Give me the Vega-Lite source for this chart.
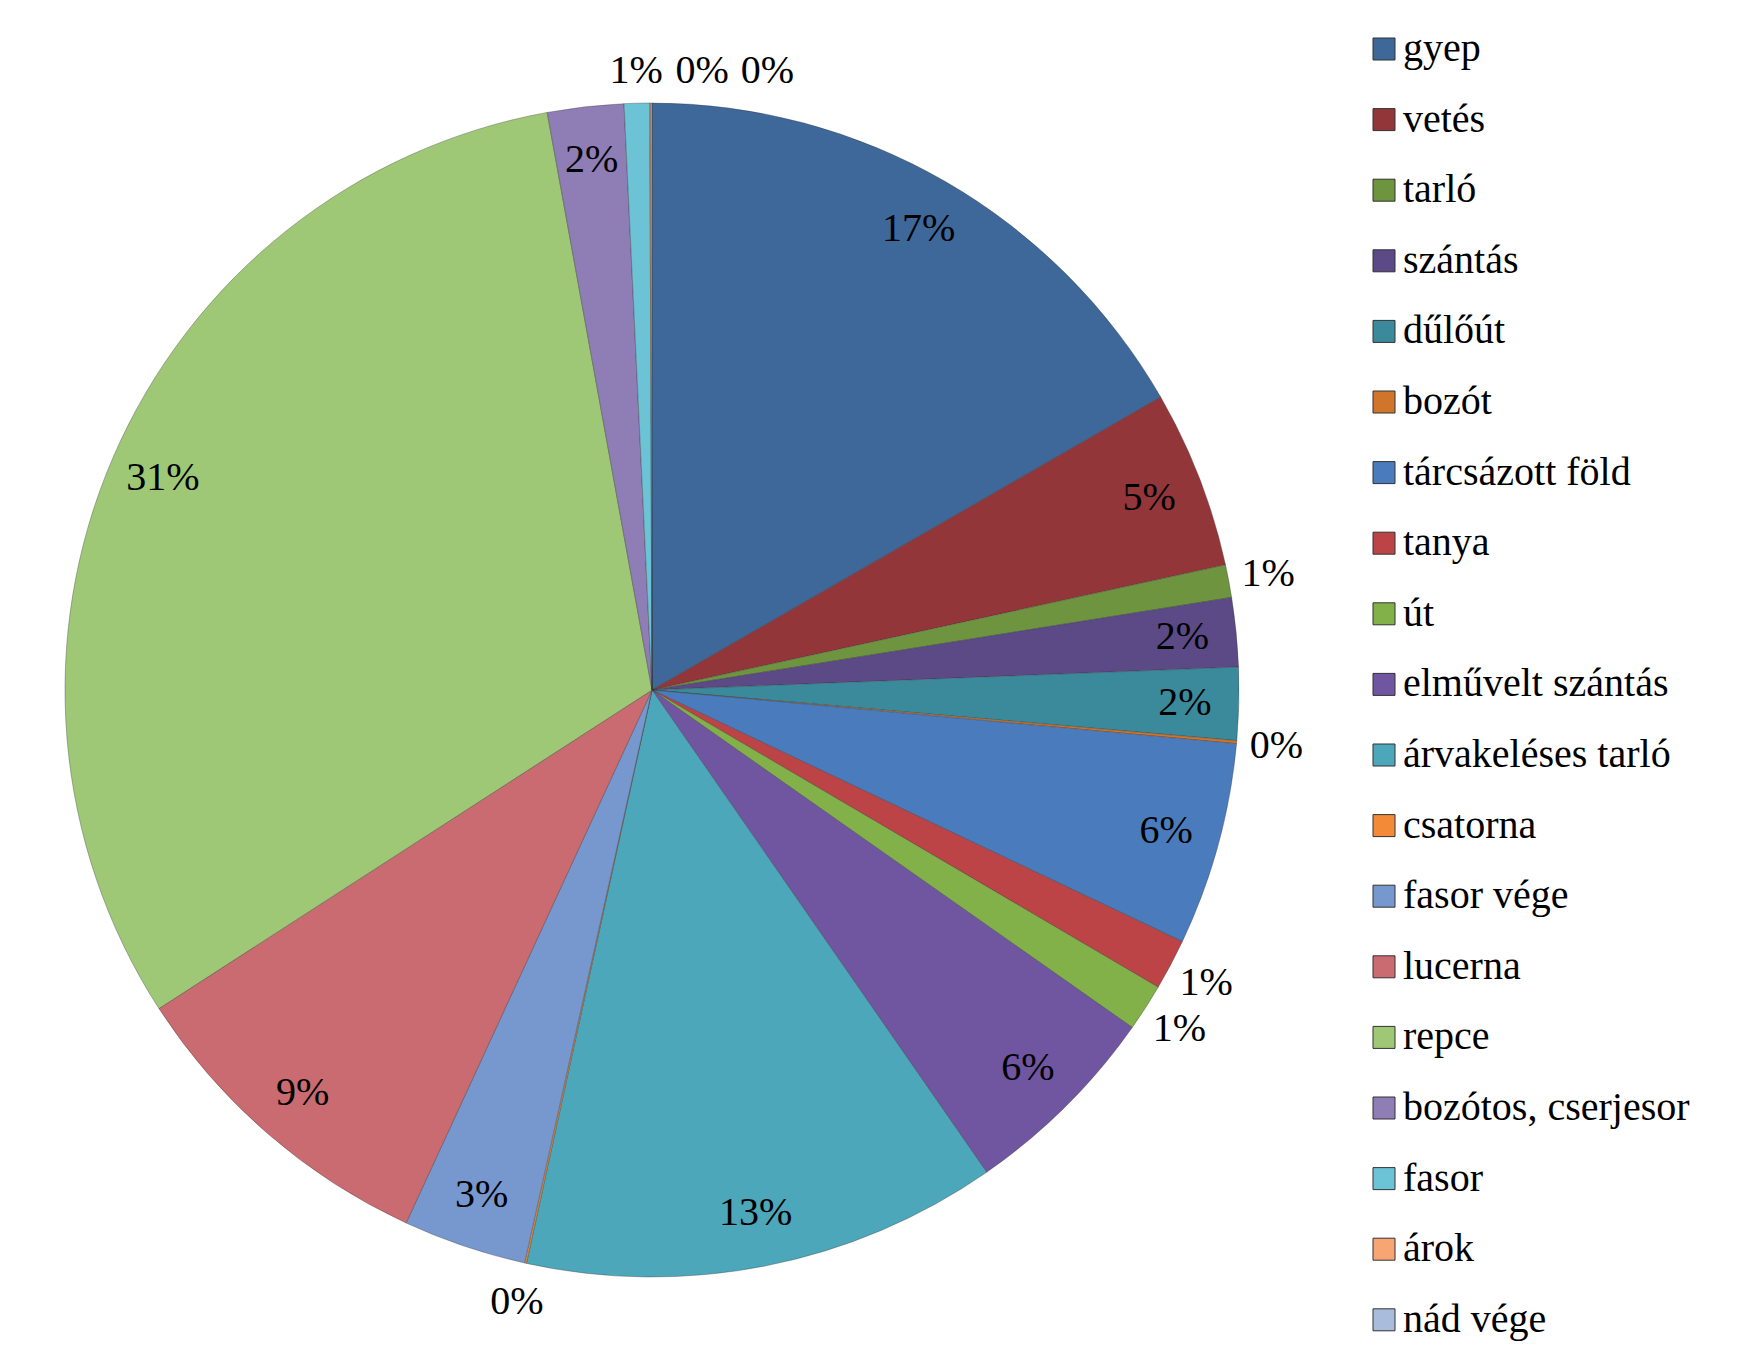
{
  "$schema": "https://vega.github.io/schema/vega-lite/v6.json",
  "width": 1304,
  "height": 1332,
  "autosize": {"type": "none"},
  "padding": {"left": 0, "top": 24, "right": 450, "bottom": 0},
  "background": "white",
  "config": {"view": {"stroke": null}},
  "data": {
    "values": [
      {"k": 1, "cat": "gyep", "share": 0.167},
      {"k": 2, "cat": "vetés", "share": 0.049},
      {"k": 3, "cat": "tarló", "share": 0.009},
      {"k": 4, "cat": "szántás", "share": 0.019},
      {"k": 5, "cat": "dűlőút", "share": 0.020},
      {"k": 6, "cat": "bozót", "share": 0.0008},
      {"k": 7, "cat": "tárcsázott föld", "share": 0.056},
      {"k": 8, "cat": "tanya", "share": 0.014},
      {"k": 9, "cat": "út", "share": 0.013},
      {"k": 10, "cat": "elművelt szántás", "share": 0.056},
      {"k": 11, "cat": "árvakeléses tarló", "share": 0.131},
      {"k": 12, "cat": "csatorna", "share": 0.0005},
      {"k": 13, "cat": "fasor vége", "share": 0.034},
      {"k": 14, "cat": "lucerna", "share": 0.090},
      {"k": 15, "cat": "repce", "share": 0.313},
      {"k": 16, "cat": "bozótos, cserjesor", "share": 0.021},
      {"k": 17, "cat": "fasor", "share": 0.007},
      {"k": 18, "cat": "árok", "share": 0.0003},
      {"k": 19, "cat": "nád vége", "share": 0.0003}
    ]
  },
  "encoding": {
    "theta": {"field": "share", "type": "quantitative", "stack": true},
    "order": {"field": "k", "type": "quantitative"}
  },
  "layer": [
    {
      "mark": {"type": "arc", "radius": 587, "stroke": "#333333", "strokeOpacity": 0.35, "strokeWidth": 1},
      "encoding": {
        "color": {
          "field": "cat",
          "type": "nominal",
          "sort": ["gyep", "vetés", "tarló", "szántás", "dűlőút", "bozót", "tárcsázott föld", "tanya", "út", "elművelt szántás", "árvakeléses tarló", "csatorna", "fasor vége", "lucerna", "repce", "bozótos, cserjesor", "fasor", "árok", "nád vége"],
          "scale": {
            "domain": ["gyep", "vetés", "tarló", "szántás", "dűlőút", "bozót", "tárcsázott föld", "tanya", "út", "elművelt szántás", "árvakeléses tarló", "csatorna", "fasor vége", "lucerna", "repce", "bozótos, cserjesor", "fasor", "árok", "nád vége"],
            "range": ["#3E689A", "#93363A", "#6E9440", "#5B4A86", "#3A8A9C", "#D1742C", "#4A7CBD", "#BC4447", "#82B14A", "#7056A0", "#4DA7BB", "#F38A38", "#7797CF", "#C96B70", "#9FC876", "#8F7DB6", "#6CC3D6", "#F8A574", "#A9BCDB"]
          },
          "legend": {
            "title": null,
            "orient": "none",
            "legendX": 1364,
            "legendY": 5,
            "padding": 0,
            "symbolType": "square",
            "symbolSize": 484,
            "symbolStrokeWidth": 1,
            "labelFont": "Liberation Serif",
            "labelFontSize": 40,
            "labelColor": "#000000",
            "labelLimit": 600,
            "labelOffset": -1,
            "rowPadding": 30.6,
            "symbolOffset": 0
          }
        }
      }
    },
    {
      "mark": {"type": "text", "radius": 533, "font": "Liberation Serif", "fontSize": 40, "color": "#000000"},
      "encoding": {
        "text": {"field": "share", "type": "quantitative", "format": ".0%"},
        "opacity": {"condition": {"test": "datum.share >= 0.015", "value": 1}, "value": 0}
      }
    },
    {
      "mark": {"type": "text", "radius": 627, "font": "Liberation Serif", "fontSize": 40, "color": "#000000"},
      "encoding": {
        "text": {"field": "share", "type": "quantitative", "format": ".0%"},
        "opacity": {"condition": {"test": "datum.share < 0.015 && datum.cat !== 'fasor' && datum.cat !== 'árok' && datum.cat !== 'nád vége'", "value": 1}, "value": 0}
      }
    },
    {
      "mark": {"type": "text", "radius": 619, "font": "Liberation Serif", "fontSize": 40, "color": "#000000"},
      "encoding": {
        "text": {"field": "share", "type": "quantitative", "format": ".0%"},
        "opacity": {"condition": {"test": "datum.cat === 'fasor'", "value": 1}, "value": 0}
      }
    },
    {
      "mark": {"type": "text", "radius": 619, "dx": 52, "font": "Liberation Serif", "fontSize": 40, "color": "#000000"},
      "encoding": {
        "text": {"field": "share", "type": "quantitative", "format": ".0%"},
        "opacity": {"condition": {"test": "datum.cat === 'árok'", "value": 1}, "value": 0}
      }
    },
    {
      "mark": {"type": "text", "radius": 619, "dx": 116, "font": "Liberation Serif", "fontSize": 40, "color": "#000000"},
      "encoding": {
        "text": {"field": "share", "type": "quantitative", "format": ".0%"},
        "opacity": {"condition": {"test": "datum.cat === 'nád vége'", "value": 1}, "value": 0}
      }
    }
  ]
}
